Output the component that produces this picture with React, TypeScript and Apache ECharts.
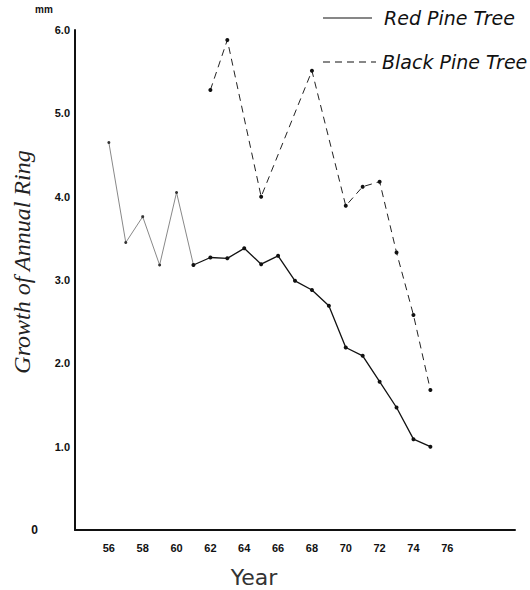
import React, { useEffect, useRef } from "react";
import * as echarts from "echarts";

const redEarlyYears = [56, 57, 58, 59, 60, 61];
const redEarlyValues = [4.65, 3.45, 3.76, 3.18, 4.05, 3.18];
const redYears = [61, 62, 63, 64, 65, 66, 67, 68, 69, 70, 71, 72, 73, 74, 75];
const redValues = [3.18, 3.27, 3.26, 3.38, 3.19, 3.29, 2.99, 2.88, 2.69, 2.19, 2.09, 1.78, 1.47, 1.09, 1.0];
const blackYears = [62, 63, 65, 68, 70, 71, 72, 73, 74, 75];
const blackValues = [5.28, 5.88, 4.0, 5.51, 3.89, 4.12, 4.18, 3.33, 2.58, 1.68];
const xTicks = [56, 58, 60, 62, 64, 66, 68, 70, 72, 74, 76];
const xTitle = "Year";
const yTitle = "Growth of Annual Ring";

const pairs = (xs: number[], ys: number[]) => xs.map((x, i) => [x, ys[i]]);

export default function App() {
  const ref = useRef<HTMLDivElement>(null);
  useEffect(() => {
    if (!ref.current) return;
    const chart = echarts.init(ref.current, null, { renderer: "svg" });
    chart.setOption({
      animation: false,
      backgroundColor: "#ffffff",
      grid: { left: 75, right: 15, top: 30, bottom: 60, containLabel: false, outerBoundsMode: "none" },
      xAxis: {
        type: "value",
        min: 54,
        max: 80,
        interval: 2,
        axisLine: { show: true, lineStyle: { color: "#111", width: 2 } },
        axisTick: { show: false },
        splitLine: { show: false },
        axisLabel: {
          color: "#111",
          fontWeight: "bold",
          fontSize: 11,
          fontFamily: "Liberation Sans",
          margin: 12,
          formatter: (v: number) => (xTicks.includes(v) ? String(v) : ""),
        },
      },
      yAxis: {
        type: "value",
        min: 0,
        max: 6,
        interval: 1,
        axisLine: { show: true, lineStyle: { color: "#111", width: 2 } },
        axisTick: { show: false },
        splitLine: { show: false },
        axisLabel: {
          color: "#111",
          fontWeight: "bold",
          fontSize: 11,
          fontFamily: "Liberation Sans",
          margin: 5,
          formatter: (v: number) => (v === 0 ? "{z|0}" : v.toFixed(1)),
          rich: { z: { fontWeight: "bold", fontSize: 12, color: "#111", padding: [0, 32, 0, 0] } },
        },
      },
      graphic: [
        { type: "text", left: 35, top: 4, style: { text: "mm", fontSize: 10, fontWeight: "bold", fill: "#111", fontFamily: "Liberation Sans" } },
        {
          type: "text",
          x: 22,
          y: 262,
          rotation: Math.PI / 2,
          style: { text: yTitle, fontSize: 24, fontStyle: "italic", fontFamily: "Liberation Serif", fill: "#222", textAlign: "center", textVerticalAlign: "middle" },
        },
        {
          type: "text",
          x: 254,
          y: 577,
          style: { text: xTitle, fontSize: 22, fontFamily: "DejaVu Sans", fill: "#333", textAlign: "center", textVerticalAlign: "middle" },
        },
        { type: "line", shape: { x1: 323, y1: 18, x2: 372, y2: 18 }, style: { stroke: "#111", lineWidth: 1.2 } },
        { type: "text", x: 384, y: 18, style: { text: "Red Pine Tree", fontSize: 19, fontStyle: "italic", fontFamily: "DejaVu Sans", fill: "#111", textVerticalAlign: "middle" } },
        { type: "line", shape: { x1: 323, y1: 62, x2: 376, y2: 62 }, style: { stroke: "#111", lineWidth: 1.2, lineDash: [7, 5] } },
        { type: "text", x: 382, y: 62, style: { text: "Black Pine Tree", fontSize: 19, fontStyle: "italic", fontFamily: "DejaVu Sans", fill: "#111", textVerticalAlign: "middle" } },
      ],
      series: [
        {
          name: "Red Pine Tree",
          type: "line",
          data: pairs(redEarlyYears, redEarlyValues),
          symbol: "circle",
          symbolSize: 3,
          itemStyle: { color: "#333" },
          lineStyle: { color: "#888", width: 1 },
        },
        {
          name: "Red Pine Tree",
          type: "line",
          data: pairs(redYears, redValues),
          symbol: "circle",
          symbolSize: 4,
          itemStyle: { color: "#111" },
          lineStyle: { color: "#111", width: 1.3 },
        },
        {
          name: "Black Pine Tree",
          type: "line",
          data: pairs(blackYears, blackValues),
          symbol: "circle",
          symbolSize: 4,
          itemStyle: { color: "#111" },
          lineStyle: { color: "#222", width: 1, type: [7, 5] },
        },
      ],
    });
    return () => chart.dispose();
  }, []);
  return (
    <div
      ref={ref}
      style={{ position: "fixed", left: 0, top: 0, width: 530, height: 590, background: "#fff" }}
    />
  );
}
